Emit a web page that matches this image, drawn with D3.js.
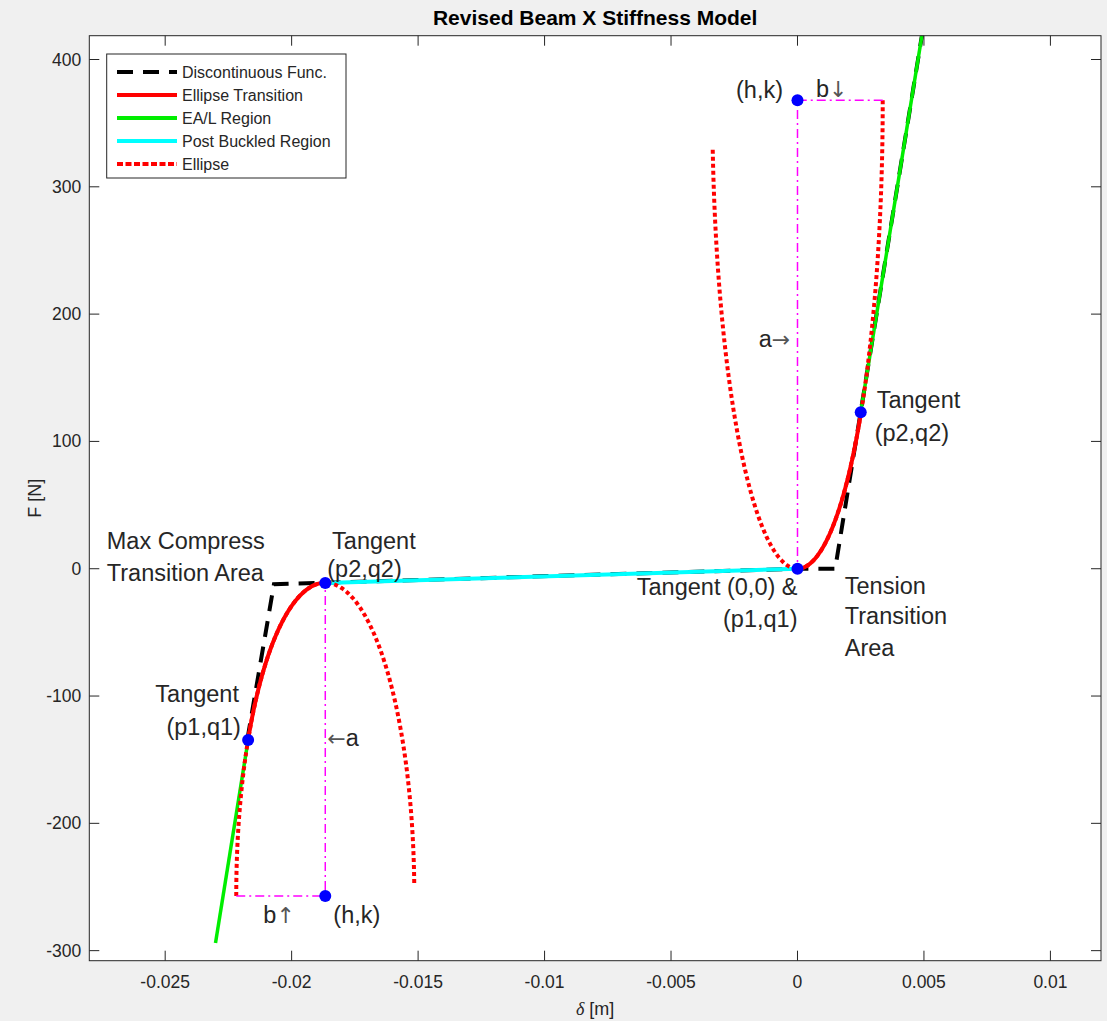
<!doctype html>
<html>
<head>
<meta charset="utf-8">
<title>Revised Beam X Stiffness Model</title>
<script src="https://cdn.jsdelivr.net/npm/d3@7"></script>
<style>
  body { margin: 0; background: #f0f0f0; }
  svg { display: block; }
  text { font-family: Arial, "Liberation Sans", Helvetica, sans-serif; }
  .arrow { font-family: "DejaVu Sans", sans-serif; }
</style>
</head>
<body>
<script>

// DATA
var xTicks = [-0.025, -0.02, -0.015, -0.01, -0.005, 0, 0.005, 0.01];
var xTickLabels = ["-0.025", "-0.02", "-0.015", "-0.01", "-0.005", "0", "0.005", "0.01"];
var yTicks = [-300, -200, -100, 0, 100, 200, 300, 400];

// ellipse centres (h,k), vertical semi-axis a, horizontal semi-axis b
var ellipseHK = [[-0.01867, -257], [0, 368]];
var ellipseA = [246, 368];
var ellipseB = [0.00352, 0.00337];
// angular span (deg) of the dotted ellipse
var ellipseSpan = [[180, 2], [0, -174]];
// tangent points
var tangentP1 = [[-0.02172, -134.6], [0, 0]];
var tangentP2 = [[-0.01867, -11.3], [0.0025, 123]];

var eaCompress = [[-0.02301, -294], [-0.02172, -134.6]];
var eaTension = [[0.0025, 123], [0.00497, 425]];
var postBuckled = [[-0.01867, -11.3], [0, 0]];
var discontinuous = [[-0.02175, -134], [-0.0207, -12.2], [0, 0], [0.00149, 0], [0.00497, 425]];

var legendNames = ["Discontinuous Func.", "Ellipse Transition", "EA/L Region", "Post Buckled Region", "Ellipse"];

// annotations: text, arrow (if any), position in data units
var notes = [
  {t: "Max Compress", x: -0.02731, y: 17.0, a: "start"},
  {t: "Transition Area", x: -0.02731, y: -8.1, a: "start"},
  {t: "Tangent", x: -0.01840, y: 16.3, a: "start"},
  {t: "(p2,q2)", x: -0.01859, y: -5.0, a: "start"},
  {t: "Tangent (0,0) &", x: 0, y: -19.4, a: "end"},
  {t: "(p1,q1)", x: 0, y: -44.3, a: "end"},
  {t: "Tension", x: 0.00187, y: -18.3, a: "start"},
  {t: "Transition", x: 0.00187, y: -41.9, a: "start"},
  {t: "Area", x: 0.00187, y: -67.0, a: "start"},
  {t: "Tangent", x: 0.00313, y: 127.8, a: "start"},
  {t: "(p2,q2)", x: 0.00305, y: 101.9, a: "start"},
  {t: "(h,k)", x: -0.00243, y: 371.2, a: "start"},
  {t: "b", arr: "\u2193", x: 0.00073, y: 372.0, a: "start"},
  {t: "a", arr: "\u2192", x: -0.00153, y: 175.6, a: "start"},
  {t: "Tangent", x: -0.02539, y: -103.9, a: "start"},
  {t: "(p1,q1)", x: -0.02495, y: -129.8, a: "start"},
  {pre: "\u2190", t: "a", x: -0.01859, y: -137.7, a: "start"},
  {t: "b", arr: "\u2191", x: -0.02112, y: -277.5, a: "start"},
  {t: "(h,k)", x: -0.01835, y: -277.5, a: "start"}
];

//SIZES
var W = 1107, H = 1021;
var m = {left: 89.3, top: 35.7, right: 1101, bottom: 960.7};
var axColor = "#262626";

var x = d3.scaleLinear().domain([-0.028, 0.012]).range([m.left, m.right]);
var y = d3.scaleLinear().domain([-307.9, 418.7]).range([m.bottom, m.top]);

var svg = d3.select("body").append("svg").attr("width", W).attr("height", H);

svg.append("defs").append("clipPath").attr("id", "clip")
  .append("rect").attr("x", m.left).attr("y", m.top)
  .attr("width", m.right - m.left).attr("height", m.bottom - m.top);

svg.append("rect").attr("x", m.left).attr("y", m.top)
  .attr("width", m.right - m.left).attr("height", m.bottom - m.top)
  .attr("fill", "#fff");

var line = d3.line().x(function(d){ return x(d[0]); }).y(function(d){ return y(d[1]); });

function ellipsePts(i, t0, t1){
  var pts = [], n = 200;
  for (var j = 0; j <= n; j++){
    var t = (t0 + (t1 - t0) * j / n) * Math.PI / 180;
    pts.push([ellipseHK[i][0] + ellipseB[i] * Math.cos(t), ellipseHK[i][1] + ellipseA[i] * Math.sin(t)]);
  }
  return pts;
}
function angleOf(i, p){
  var c = (p[0] - ellipseHK[i][0]) / ellipseB[i];
  var s = (p[1] - ellipseHK[i][1]) / ellipseA[i];
  return Math.atan2(s, c) * 180 / Math.PI;
}

var plot = svg.append("g").attr("clip-path", "url(#clip)");

//DISCONTINUOUS
plot.append("path").attr("d", line(discontinuous))
  .attr("fill", "none").attr("stroke", "#000").attr("stroke-width", 4)
  .attr("stroke-dasharray", "16,10");

//ELLIPSE TRANSITION
[0, 1].forEach(function(i){
  plot.append("path").attr("d", line(ellipsePts(i, angleOf(i, tangentP1[i]), angleOf(i, tangentP2[i]))))
    .attr("fill", "none").attr("stroke", "#ff0000").attr("stroke-width", 4);
});

//EA/L
[eaCompress, eaTension].forEach(function(seg){
  plot.append("path").attr("d", line(seg))
    .attr("fill", "none").attr("stroke", "#00ee00").attr("stroke-width", 3.5);
});

//POST BUCKLED
plot.append("path").attr("d", line(postBuckled))
  .attr("fill", "none").attr("stroke", "#00ffff").attr("stroke-width", 4);

//ELLIPSE DOTTED
[0, 1].forEach(function(i){
  plot.append("path").attr("d", line(ellipsePts(i, ellipseSpan[i][0], ellipseSpan[i][1])))
    .attr("fill", "none").attr("stroke", "#ff0000").attr("stroke-width", 4)
    .attr("stroke-dasharray", "4,3");
});

//a AND b GUIDES
[0, 1].forEach(function(i){
  var c = ellipseHK[i];
  var edge = i == 0 ? c[0] - ellipseB[i] : c[0] + ellipseB[i];
  plot.append("path").attr("d", line([[edge, c[1]], c, tangentP2[i][0] == c[0] ? tangentP2[i] : tangentP1[i]]))
    .attr("fill", "none").attr("stroke", "#ff00ff").attr("stroke-width", 1.5)
    .attr("stroke-dasharray", "9,4,2,4");
});

//MARKERS
var marks = ellipseHK.concat(tangentP1, tangentP2);
plot.selectAll("circle.m").data(marks).enter().append("circle")
  .attr("cx", function(d){ return x(d[0]); })
  .attr("cy", function(d){ return y(d[1]); })
  .attr("r", 6).attr("fill", "#0000ff");

//NOTES
var nt = svg.selectAll("text.note").data(notes).enter().append("text")
  .attr("x", function(d){ return x(d.x); })
  .attr("y", function(d){ return y(d.y) + 1.5; })
  .attr("text-anchor", function(d){ return d.a; })
  .attr("font-size", "23.5px").attr("fill", axColor);
nt.each(function(d){
  var t = d3.select(this);
  if (d.pre) t.append("tspan").attr("class", "arrow").attr("font-size", "22px").attr("fill", "#555").text(d.pre);
  t.append("tspan").text(d.t);
  if (d.arr) t.append("tspan").attr("class", "arrow").attr("font-size", "22px").attr("fill", "#555").text(d.arr);
});

//AXES BOX + TICKS
svg.append("rect").attr("x", m.left).attr("y", m.top)
  .attr("width", m.right - m.left).attr("height", m.bottom - m.top)
  .attr("fill", "none").attr("stroke", axColor).attr("stroke-width", 1);

var tl = 10;
xTicks.forEach(function(v, i){
  var px = x(v);
  svg.append("line").attr("x1", px).attr("x2", px).attr("y1", m.bottom).attr("y2", m.bottom - tl).attr("stroke", axColor);
  svg.append("line").attr("x1", px).attr("x2", px).attr("y1", m.top).attr("y2", m.top + tl).attr("stroke", axColor);
  svg.append("text").attr("x", px).attr("y", m.bottom + 27).attr("text-anchor", "middle")
    .attr("font-size", "17.5px").attr("fill", axColor).text(xTickLabels[i]);
});
yTicks.forEach(function(v){
  var py = y(v);
  svg.append("line").attr("y1", py).attr("y2", py).attr("x1", m.left).attr("x2", m.left + tl).attr("stroke", axColor);
  svg.append("line").attr("y1", py).attr("y2", py).attr("x1", m.right).attr("x2", m.right - tl).attr("stroke", axColor);
  svg.append("text").attr("x", m.left - 8).attr("y", py + 6).attr("text-anchor", "end")
    .attr("font-size", "17.5px").attr("fill", axColor).text(v);
});

//LABELS
var cx = (m.left + m.right) / 2, cy = (m.top + m.bottom) / 2;
svg.append("text").attr("x", cx).attr("y", 25).attr("text-anchor", "middle")
  .attr("font-size", "21px").attr("font-weight", "bold").attr("fill", "#000")
  .text("Revised Beam X Stiffness Model");
var xl = svg.append("text").attr("x", cx).attr("y", 1015).attr("text-anchor", "middle")
  .attr("font-size", "18px").attr("fill", axColor);
xl.append("tspan").attr("font-style", "italic").attr("font-family", "'Liberation Serif', serif").text("\u03b4");
xl.append("tspan").text(" [m]");
svg.append("text").attr("transform", "translate(41," + cy + ") rotate(-90)")
  .attr("text-anchor", "middle").attr("font-size", "18px").attr("fill", axColor).text("F [N]");

//LEGEND
var lg = svg.append("g");
lg.append("rect").attr("x", 106.7).attr("y", 54).attr("width", 239.3).attr("height", 124)
  .attr("fill", "#fff").attr("stroke", axColor).attr("stroke-width", 1);
var styles = [
  {c: "#000", w: 4, d: "16,10"},
  {c: "#ff0000", w: 4, d: null},
  {c: "#00ee00", w: 4, d: null},
  {c: "#00ffff", w: 4, d: null},
  {c: "#ff0000", w: 4, d: "6,2.5"}
];
legendNames.forEach(function(n, i){
  var ly = 72 + i * 23;
  lg.append("line").attr("x1", 117).attr("x2", 177).attr("y1", ly).attr("y2", ly)
    .attr("stroke", styles[i].c).attr("stroke-width", styles[i].w)
    .attr("stroke-dasharray", styles[i].d);
  lg.append("text").attr("x", 182).attr("y", ly + 5.5).attr("font-size", "16px")
    .attr("fill", axColor).text(n);
});

</script>
</body>
</html>
